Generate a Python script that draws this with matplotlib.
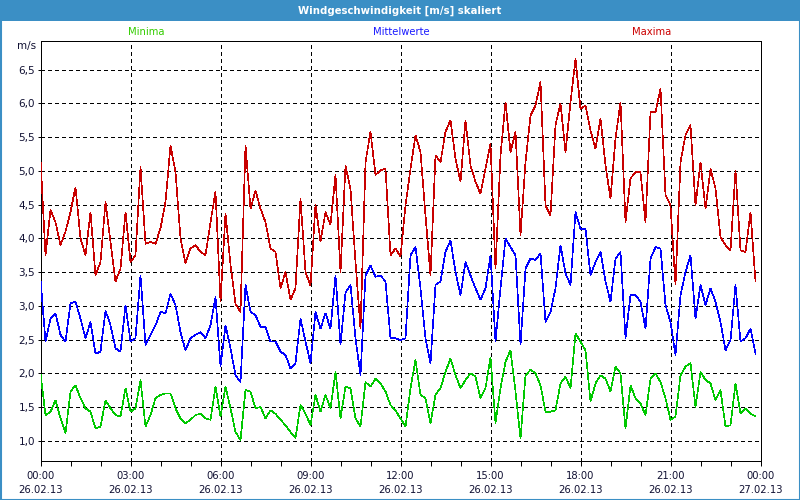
import matplotlib
matplotlib.use("Agg")
import matplotlib.pyplot as plt
import numpy as np
from matplotlib.patches import Rectangle


TITLE = "Windgeschwindigkeit [m/s] skaliert"
SERIES_NAMES = ["Minima", "Mittelwerte", "Maxima"]

# 10-minute values, 26.02.13 00:00 .. 23:50
maxima = [
    5.18, 3.75, 4.42, 4.24, 3.90, 4.10, 4.39, 4.76, 4.00, 3.75, 4.39, 3.45,
    3.65, 4.54, 3.95, 3.36, 3.55, 4.39, 3.65, 3.75, 5.06, 3.92, 3.95, 3.92,
    4.15, 4.54, 5.38, 4.98, 4.00, 3.63, 3.85, 3.90, 3.80, 3.75, 4.24, 4.69,
    3.06, 4.37, 3.61, 3.03, 2.91, 5.38, 4.44, 4.71, 4.44, 4.24, 3.85, 3.80,
    3.26, 3.50, 3.09, 3.26, 4.59, 3.50, 3.30, 4.50, 3.95, 4.39, 4.20, 4.94,
    3.50, 5.08, 4.73, 3.65, 2.66, 5.13, 5.58, 4.94, 5.01, 5.03, 3.75, 3.85,
    3.73, 4.49, 5.03, 5.53, 5.28, 4.34, 3.45, 5.23, 5.13, 5.58, 5.75, 5.18,
    4.84, 5.75, 5.08, 4.84, 4.66, 5.03, 5.40, 3.55, 5.23, 6.02, 5.28, 5.58,
    4.05, 5.13, 5.82, 5.97, 6.32, 4.49, 4.34, 5.68, 6.00, 5.28, 6.02, 6.66,
    5.92, 5.97, 5.60, 5.33, 5.78, 5.08, 4.59, 5.48, 6.02, 4.24, 4.89, 4.98,
    4.98, 4.24, 5.87, 5.87, 6.22, 4.64, 4.49, 3.31, 5.13, 5.53, 5.68, 4.49,
    5.13, 4.44, 5.03, 4.74, 4.02, 3.90, 3.82, 5.01, 3.82, 3.80, 4.39, 3.36,
]
mittelwerte = [
    3.40, 2.47, 2.81, 2.89, 2.57, 2.47, 3.04, 3.06, 2.81, 2.52, 2.76, 2.29,
    2.32, 2.93, 2.71, 2.37, 2.32, 3.01, 2.47, 2.52, 3.45, 2.42, 2.57, 2.71,
    2.91, 2.89, 3.18, 3.01, 2.61, 2.34, 2.52, 2.57, 2.61, 2.52, 2.71, 3.13,
    2.10, 2.71, 2.37, 1.97, 1.87, 3.31, 2.91, 2.86, 2.69, 2.69, 2.47, 2.47,
    2.32, 2.27, 2.07, 2.15, 2.81, 2.47, 2.15, 2.91, 2.66, 2.89, 2.66, 3.45,
    2.42, 3.20, 3.31, 2.52, 1.97, 3.45, 3.60, 3.43, 3.45, 3.36, 2.52, 2.52,
    2.49, 2.52, 3.75, 3.87, 3.26, 2.52, 2.15, 3.31, 3.36, 3.80, 3.97, 3.50,
    3.16, 3.65, 3.45, 3.26, 3.09, 3.26, 3.75, 2.47, 3.26, 4.00, 3.87, 3.75,
    2.42, 3.55, 3.70, 3.68, 3.78, 2.76, 2.91, 3.26, 3.90, 3.48, 3.31, 4.39,
    4.14, 4.14, 3.45, 3.65, 3.80, 3.36, 3.06, 3.70, 3.80, 2.52, 3.16, 3.16,
    3.06, 2.66, 3.70, 3.87, 3.85, 3.01, 2.76, 2.27, 3.16, 3.50, 3.75, 2.81,
    3.31, 3.01, 3.26, 3.06, 2.76, 2.34, 2.49, 3.31, 2.47, 2.52, 2.66, 2.29,
]
minima = [
    2.00, 1.38, 1.43, 1.60, 1.33, 1.11, 1.73, 1.82, 1.63, 1.48, 1.43, 1.18,
    1.21, 1.60, 1.48, 1.38, 1.36, 1.78, 1.43, 1.48, 1.90, 1.21, 1.38, 1.63,
    1.68, 1.70, 1.70, 1.48, 1.33, 1.26, 1.31, 1.38, 1.40, 1.33, 1.31, 1.80,
    1.36, 1.80, 1.48, 1.13, 1.01, 1.75, 1.73, 1.48, 1.50, 1.33, 1.45, 1.40,
    1.31, 1.23, 1.13, 1.04, 1.53, 1.40, 1.23, 1.68, 1.43, 1.68, 1.48, 2.02,
    1.33, 1.80, 1.78, 1.33, 1.21, 1.87, 1.80, 1.92, 1.85, 1.73, 1.53, 1.45,
    1.33, 1.21, 1.78, 2.20, 1.68, 1.63, 1.26, 1.68, 1.78, 2.02, 2.22, 1.97,
    1.78, 1.90, 2.00, 1.95, 1.63, 1.78, 2.24, 1.26, 1.78, 2.17, 2.34, 1.73,
    1.03, 1.97, 2.05, 2.00, 1.82, 1.43, 1.43, 1.45, 1.85, 1.95, 1.78, 2.59,
    2.47, 2.34, 1.58, 1.85, 1.97, 1.92, 1.73, 2.10, 2.00, 1.18, 1.82, 1.63,
    1.55, 1.38, 1.92, 2.00, 1.87, 1.63, 1.31, 1.36, 1.97, 2.10, 2.15, 1.50,
    2.02, 1.90, 1.85, 1.60, 1.75, 1.21, 1.23, 1.85, 1.40, 1.48, 1.40, 1.36,
]

hours = np.arange(len(maxima)) / 6.0
x_ticks = [0, 3, 6, 9, 12, 15, 18, 21, 24]
x_labels = [
    "00:00\n26.02.13", "03:00\n26.02.13", "06:00\n26.02.13", "09:00\n26.02.13",
    "12:00\n26.02.13", "15:00\n26.02.13", "18:00\n26.02.13", "21:00\n26.02.13",
    "00:00\n27.02.13",
]
y_ticks = [1.0, 1.5, 2.0, 2.5, 3.0, 3.5, 4.0, 4.5, 5.0, 5.5, 6.0, 6.5]

TEXT = "#111133"
FRAME_BLUE = "#3b8fc5"
COLORS = {"Minima": "#00c800", "Mittelwerte": "#0000ff", "Maxima": "#c80000"}
LABEL_COLORS = {"Minima": "#33cc00", "Mittelwerte": "#1a1aff", "Maxima": "#cc0000"}
PX = 0.72  # one pixel in points at 100 dpi

plt.rcParams["font.family"] = ["DejaVu Sans"]
plt.rcParams["lines.scale_dashes"] = False

fig = plt.figure(figsize=(8, 5), dpi=100, facecolor="white")
ax = fig.add_axes([40.5 / 800, 1 - 460.5 / 500, 720 / 800, 420 / 500])

# window frame and title bar
fig.patches.append(Rectangle((0, 1 - 21 / 500), 1, 21 / 500, transform=fig.transFigure,
                             facecolor=FRAME_BLUE, edgecolor="none", zorder=0))
fig.patches.append(Rectangle((0.5 / 800, 0.5 / 500), 799 / 800, 499 / 500,
                             transform=fig.transFigure, facecolor="none",
                             edgecolor=FRAME_BLUE, linewidth=1.5, zorder=0))
fig.text(0.5, 1 - 10.5 / 500, TITLE, color="white", fontsize=7.3, fontweight="bold",
         ha="center", va="center")

for name, values in zip(SERIES_NAMES, [minima, mittelwerte, maxima]):
    ax.plot(hours, values, color=COLORS[name], linewidth=0.45, antialiased=False,
            solid_joinstyle="miter", zorder=3)

ax.set_xlim(0, 24)
ax.set_ylim(1.0 - 19.8 / 67.5, 1.0 + 400.5 / 67.5)

ax.set_xticks(x_ticks)
ax.set_xticklabels(x_labels, fontsize=7.2, color=TEXT, linespacing=1.45)
ax.set_xticks(np.arange(0, 25, 1), minor=True)
ax.set_yticks(y_ticks)
ax.set_yticklabels([f"{v:.1f}".replace(".", ",") for v in y_ticks], fontsize=7.5, color=TEXT)
ax.tick_params(axis="x", which="both", direction="out", length=3.5, width=PX,
               color="black", pad=4)
ax.tick_params(axis="y", direction="out", length=2, width=PX, color="black", pad=2)

ax.grid(True, which="major", color="black", linewidth=PX,
        linestyle=(0, (2.2, 2.2)), antialiased=False, zorder=1)
ax.set_axisbelow(True)
for spine in ax.spines.values():
    spine.set_color("black")
    spine.set_linewidth(PX)
    spine.set_antialiased(False)

fig.text(36 / 800, 1 - 46 / 500, "m/s", fontsize=7.5, color=TEXT, ha="right", va="center")

label_x = [146, 401, 652]
for name, lx in zip(SERIES_NAMES, label_x):
    fig.text(lx / 800, 1 - 32 / 500, name, fontsize=7.2, color=LABEL_COLORS[name],
             ha="center", va="center")

fig.savefig("out.png", dpi=100, facecolor="white")
